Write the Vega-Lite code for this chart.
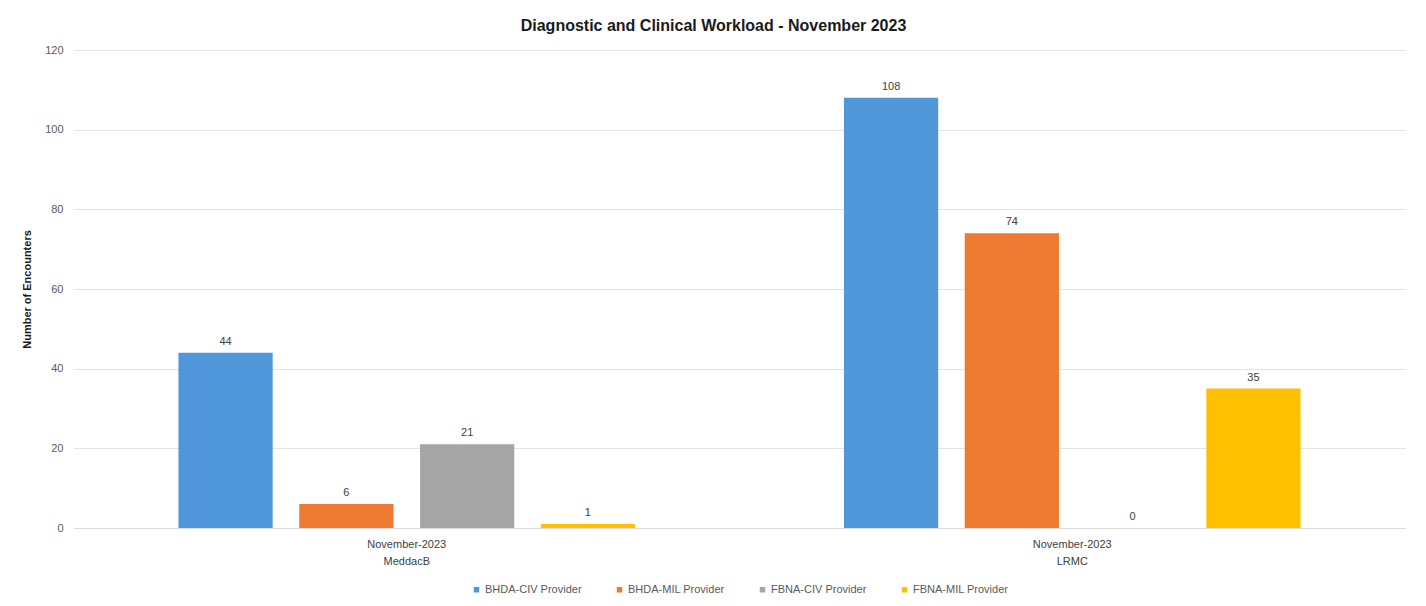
{
  "$schema": "https://vega.github.io/schema/vega-lite/v6.json",
  "width": 1331,
  "height": 478,
  "autosize": {"type": "none"},
  "padding": {"left": 74, "top": 50, "right": 21, "bottom": 78},
  "background": "white",
  "title": {
    "text": "Diagnostic and Clinical Workload - November 2023",
    "font": "Liberation Sans",
    "fontSize": 16,
    "fontWeight": "bold",
    "color": "#1a1a1a",
    "anchor": "middle",
    "dx": -26,
    "offset": 10
  },
  "data": {
    "values": [
      {"group": "MeddacB", "series": "BHDA-CIV Provider", "value": 44},
      {"group": "MeddacB", "series": "BHDA-MIL Provider", "value": 6},
      {"group": "MeddacB", "series": "FBNA-CIV Provider", "value": 21},
      {"group": "MeddacB", "series": "FBNA-MIL Provider", "value": 1},
      {"group": "LRMC", "series": "BHDA-CIV Provider", "value": 108},
      {"group": "LRMC", "series": "BHDA-MIL Provider", "value": 74},
      {"group": "LRMC", "series": "FBNA-CIV Provider", "value": 0},
      {"group": "LRMC", "series": "FBNA-MIL Provider", "value": 35}
    ]
  },
  "encoding": {
    "x": {
      "field": "group",
      "type": "nominal",
      "sort": ["MeddacB", "LRMC"],
      "scale": {"paddingInner": 0.274, "paddingOuter": 0.137},
      "axis": {
        "title": null,
        "labelAngle": 0,
        "labelExpr": "['November-2023', datum.value]",
        "labelFont": "Liberation Sans",
        "labelFontSize": 11,
        "labelColor": "#404040",
        "labelLineHeight": 17,
        "labelPadding": 10,
        "ticks": false,
        "domain": true,
        "domainColor": "#d9d9d9",
        "grid": false
      }
    },
    "xOffset": {
      "field": "series",
      "type": "nominal",
      "scale": {"paddingInner": 0.22, "paddingOuter": 0.11}
    },
    "y": {
      "field": "value",
      "type": "quantitative",
      "scale": {"domain": [0, 120]},
      "axis": {
        "title": "Number of Encounters",
        "titleFont": "Liberation Sans",
        "titleFontSize": 11,
        "titleFontWeight": "bold",
        "titleColor": "#1a1a1a",
        "titlePadding": 12,
        "values": [0, 20, 40, 60, 80, 100, 120],
        "labelFont": "Liberation Sans",
        "labelFontSize": 11,
        "labelColor": "#595959",
        "labelPadding": 11,
        "ticks": false,
        "domain": false,
        "grid": true,
        "gridColor": "#e3e3e3",
        "gridWidth": 1
      }
    }
  },
  "layer": [
    {
      "mark": {"type": "bar"},
      "encoding": {
        "color": {
          "field": "series",
          "type": "nominal",
          "scale": {
            "domain": ["BHDA-CIV Provider", "BHDA-MIL Provider", "FBNA-CIV Provider", "FBNA-MIL Provider"],
            "range": ["#5097da", "#ed7a30", "#a5a5a5", "#ffc000"]
          },
          "legend": {
            "title": null,
            "orient": "bottom",
            "direction": "horizontal",
            "symbolType": "square",
            "symbolSize": 30,
            "labelFont": "Liberation Sans",
            "labelFontSize": 11,
            "labelColor": "#595959",
            "columnPadding": 32,
            "labelOffset": 3,
            "offset": 18
          }
        }
      }
    },
    {
      "mark": {
        "type": "text",
        "baseline": "bottom",
        "dy": -6,
        "font": "Liberation Sans",
        "fontSize": 11,
        "color": "#404040"
      },
      "encoding": {
        "text": {"field": "value", "type": "quantitative"}
      }
    }
  ],
  "config": {
    "view": {"stroke": null},
    "legend": {"layout": {"bottom": {"anchor": "middle"}}}
  }
}
